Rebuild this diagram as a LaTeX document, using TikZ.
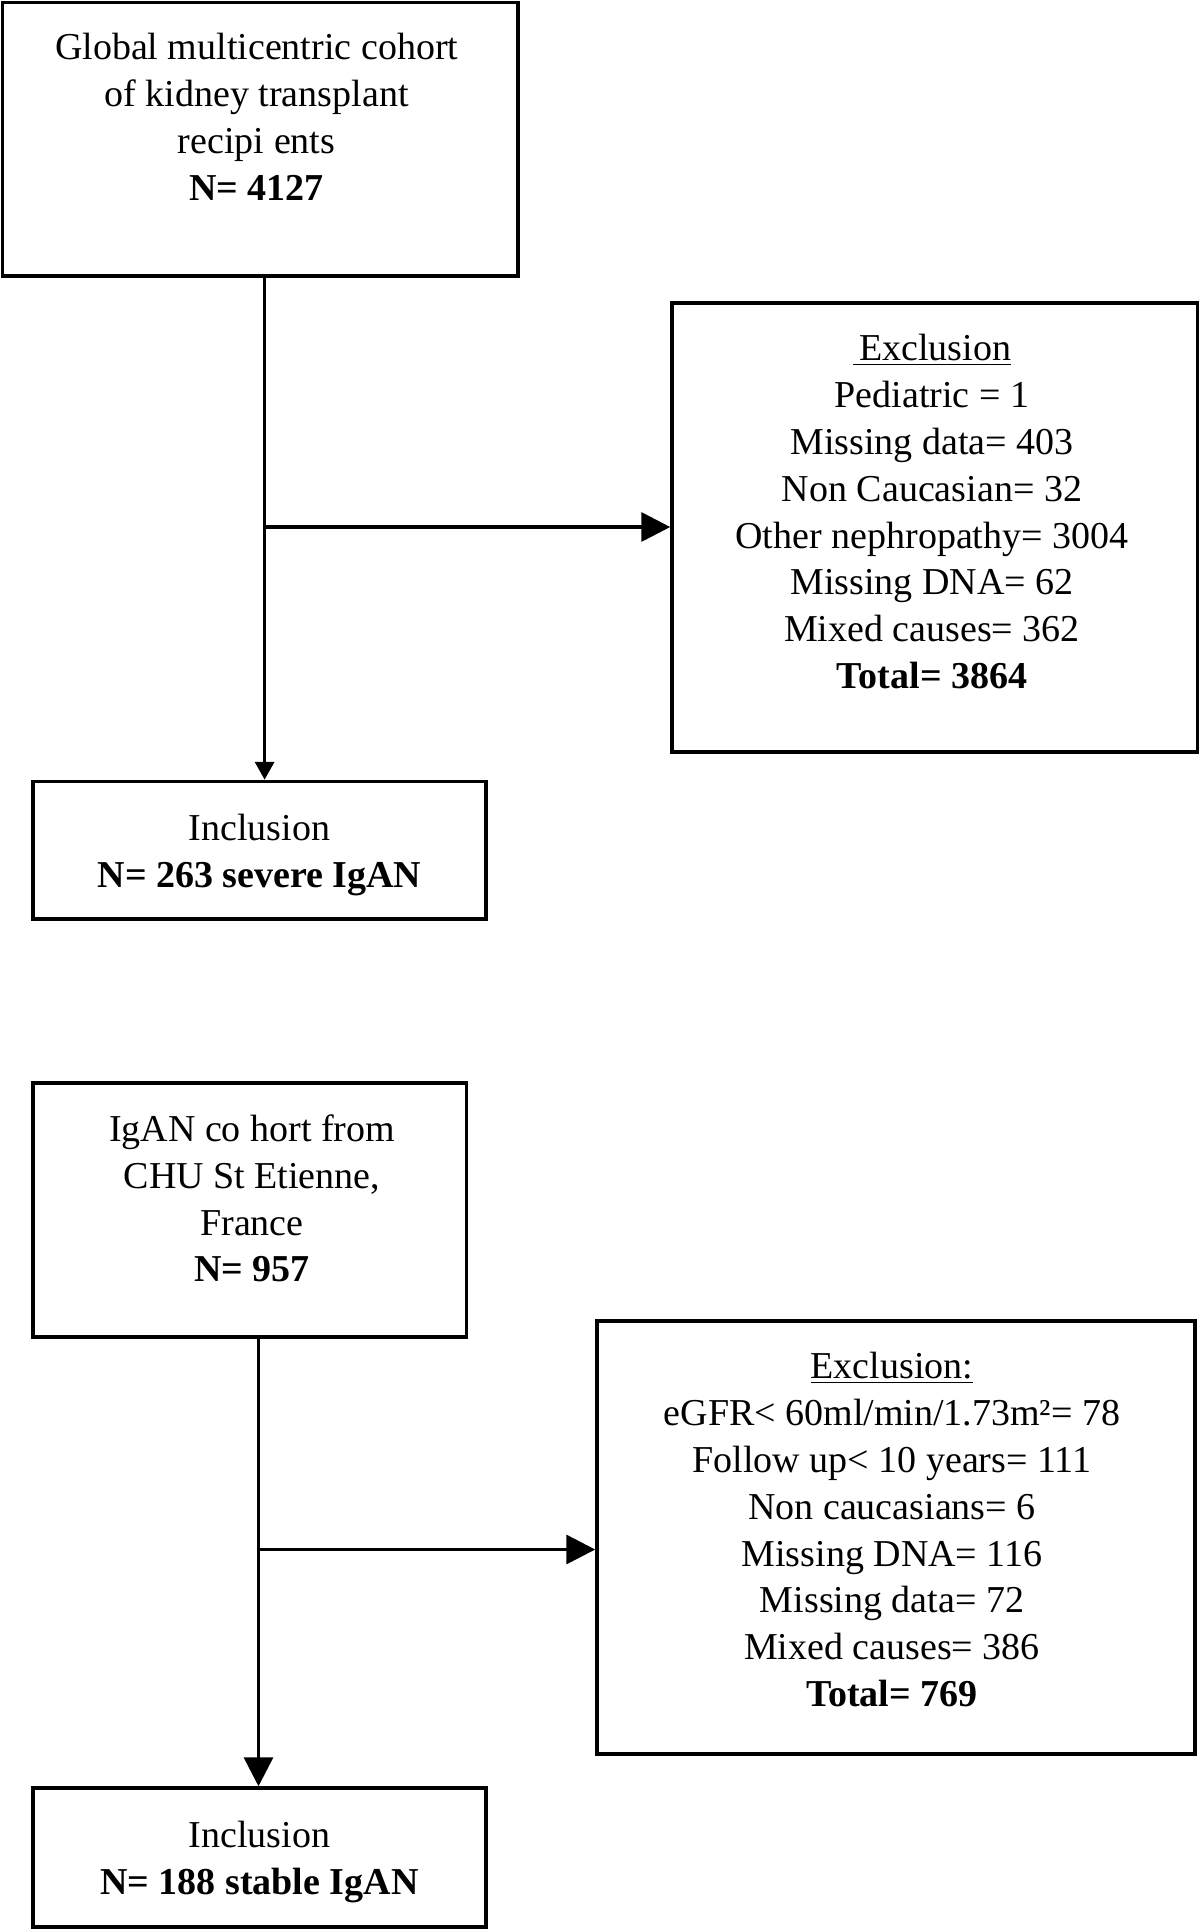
\documentclass[tikz,border=0pt]{standalone}
\usepackage{fontspec}
\setmainfont{Liberation Serif}
\usetikzlibrary{arrows.meta}
\begin{document}
\begin{tikzpicture}[x=0.5pt,y=-0.5pt,
  boxst/.style={draw=black, line width=1.75pt, inner sep=0pt},
  txt/.style={anchor=north, inner sep=0pt, align=center, font=\fontsize{19}{23.4}\selectfont},
  conn/.style={line width=1.75pt},
  bigarrow/.style={conn, -{Triangle[length=14.5pt,width=14.5pt]}},
  smallarrow/.style={conn, -{Triangle[length=9pt,width=9.5pt]}}]
\useasboundingbox (0,0) rectangle (1200,1929);
% boxes
\node[boxst, minimum width=257.75pt, minimum height=136.75pt] (b1) at (260.25,139.25) {};
\node[boxst, minimum width=262.75pt, minimum height=224.5pt] (e1) at (934.75,527.5) {};
\node[boxst, minimum width=226.5pt, minimum height=68.75pt] (i1) at (259.5,850.25) {};
\node[boxst, minimum width=216.75pt, minimum height=127pt] (g2) at (249.75,1210) {};
\node[boxst, minimum width=299pt, minimum height=216.5pt] (e2) at (896,1537.5) {};
\node[boxst, minimum width=226.5pt, minimum height=69.5pt] (i2) at (259.5,1857.5) {};
% texts
\node[txt] (b1t) at (256.6,26.7) {\strut Global multicentric cohort\\of kidney transplant\\recipi ents\\\textbf{N= 4127}};
\node[txt] (e1t) at (932,327.7) {\strut\underline{\,Exclusion}\\Pediatric = 1\\Missing data= 403\\Non Caucasian= 32\\Other nephropathy= 3004\\Missing DNA= 62\\Mixed causes= 362\\\textbf{Total= 3864}};
\node[txt] (i1t) at (259.5,807.7) {\strut Inclusion\\\textbf{N= 263 severe IgAN}};
\node[txt] (g2t) at (252,1108.4) {\strut IgAN co hort from\\CHU St Etienne,\\France\\\textbf{N= 957}};
\node[txt] (e2t) at (892,1345.7) {\strut\underline{Exclusion:}\\eGFR< 60ml/min/1.73m²= 78\\Follow up< 10 years= 111\\Non caucasians= 6\\Missing DNA= 116\\Missing data= 72\\Mixed causes= 386\\\textbf{Total= 769}};
\node[txt] (i2t) at (259.5,1814.7) {\strut Inclusion\\\textbf{N= 188 stable IgAN}};
% connectors
\coordinate (j1) at (264.6,527);
\draw[smallarrow] (b1.south -| j1) -- (i1.north -| j1);
\draw[bigarrow] (j1) -- (e1.west |- j1);
\coordinate (j2) at (258.5,1549.5);
\draw[bigarrow] (g2.south -| j2) -- (i2.north -| j2);
\draw[bigarrow] (j2) -- (e2.west |- j2);
\end{tikzpicture}
\end{document}
